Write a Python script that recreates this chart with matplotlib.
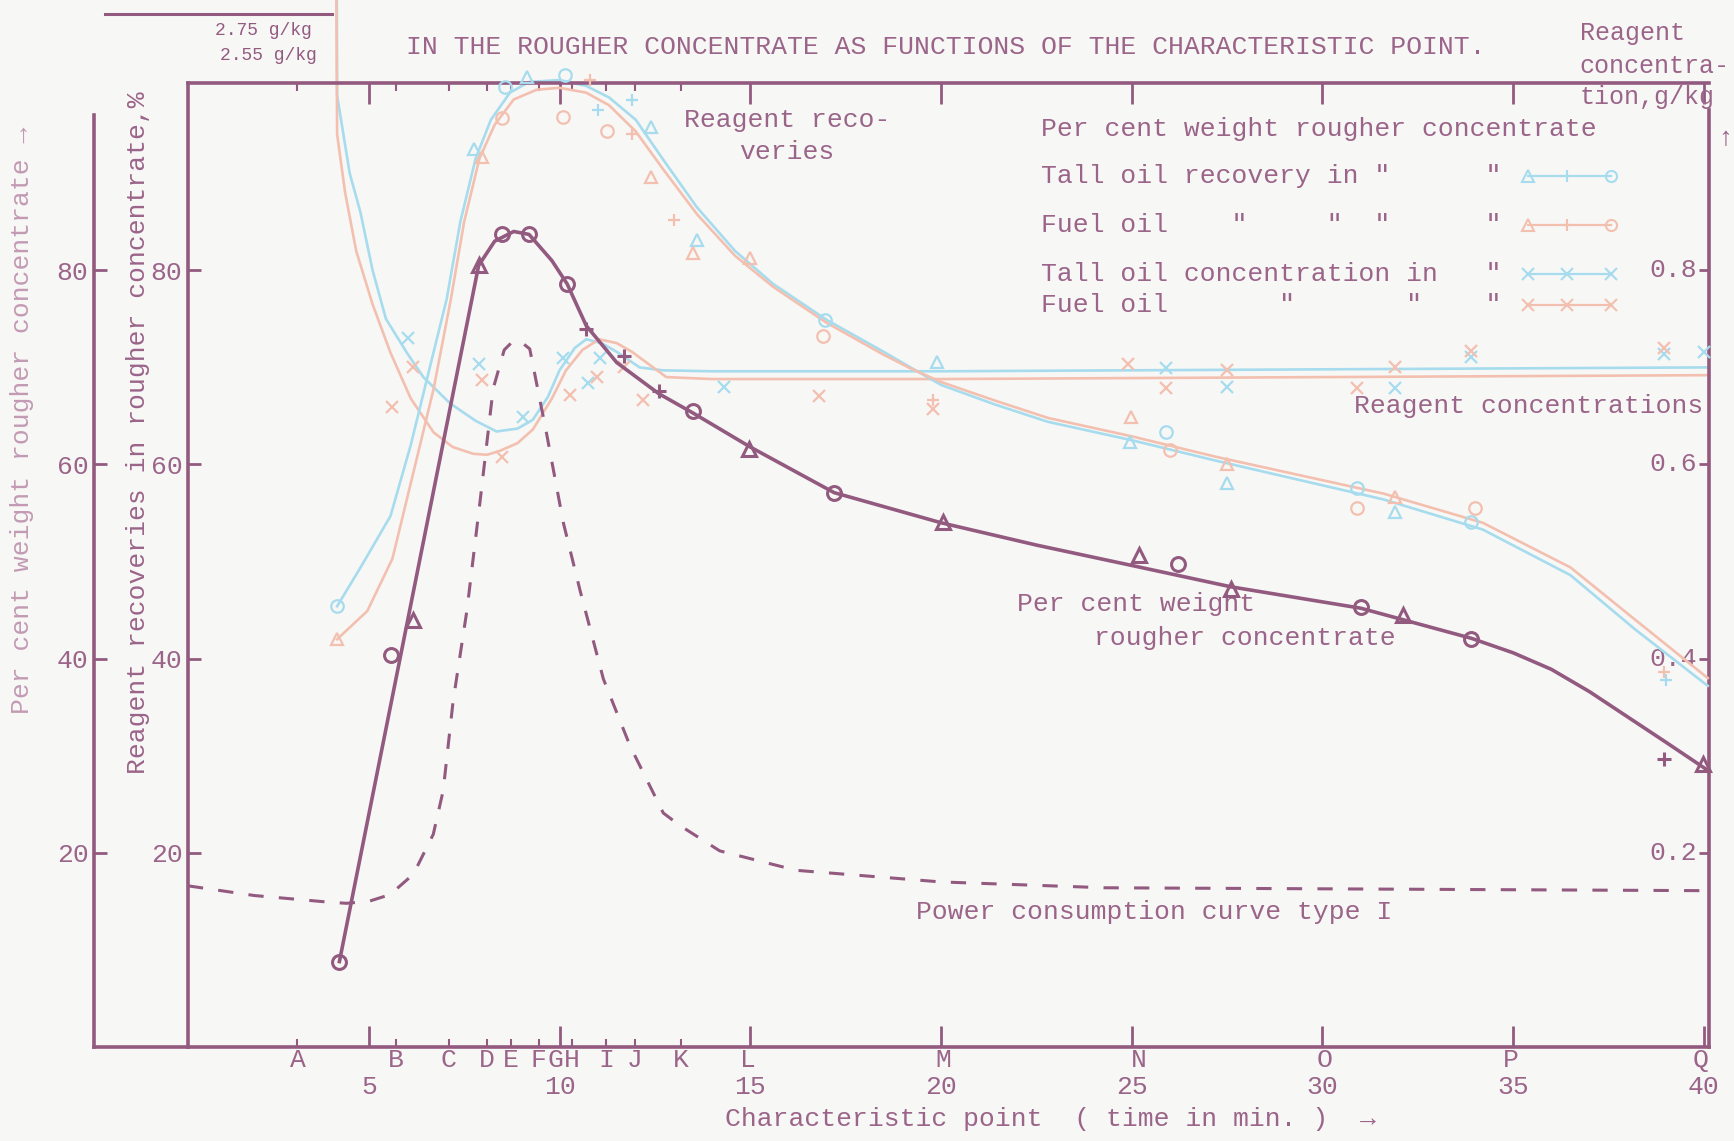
import matplotlib
matplotlib.use("Agg")
import matplotlib.pyplot as plt
from matplotlib.lines import Line2D

plt.rcParams['font.family'] = ['Liberation Mono', 'DejaVu Sans Mono']

PURPLE = "#935a80"
TEXT = "#9b6489"
LIGHT = "#c39ab4"
BLUE = "#a6dced"
PEACH = "#f3c0b0"
BG = "#f7f7f6"
FS = 19

# characteristic points along the time axis
point_names = list("ABCDEFGHIJKLMNOPQ")
point_times = [3.13, 5.71, 7.10, 8.09, 8.72, 9.45, 9.88, 10.32, 11.22, 11.97,
               13.19, 14.93, 20.06, 25.19, 30.06, 34.93, 39.91]
minutes = [5, 10, 15, 20, 25, 30, 35, 40]

# per cent weight rougher concentrate
wt_line_t = [4.23, 7.88, 8.3, 8.8, 9.2, 9.8, 10.2, 10.7, 11.5, 12.6, 13.5, 15.0,
             17.2, 20.0, 22.5, 25.0, 27.6, 31.0, 33.9, 35.0, 36.0, 37.0, 38.0, 39.0, 40.1]
wt_line_v = [8.8, 80.5, 83.0, 84.0, 83.7, 81.0, 78.6, 74.3, 70.5, 67.3, 65.3, 61.8,
             57.1, 54.0, 51.7, 49.6, 47.4, 45.2, 42.1, 40.6, 38.9, 36.6, 34.0, 31.4, 28.5]
wt_circ_t = [4.23, 5.57, 8.49, 9.19, 10.2, 13.5, 17.2, 26.2, 31.0, 33.9]
wt_circ_v = [8.8, 40.4, 83.7, 83.7, 78.6, 65.5, 57.1, 49.8, 45.3, 42.0]
wt_tri_t = [6.17, 7.88, 14.96, 20.06, 25.2, 27.6, 32.1, 39.97]
wt_tri_v = [44.0, 80.5, 61.6, 54.1, 50.7, 47.2, 44.5, 29.2]
wt_plus_t = [10.7, 11.7, 12.6, 38.96]
wt_plus_v = [74.0, 71.2, 67.6, 29.7]

# reagent recoveries, %
tall_rec_t = [4.17, 4.8, 5.57, 6.1, 6.6, 7.04, 7.4, 7.8, 8.2, 8.7, 9.2, 10.0, 10.7,
              11.3, 12.0, 12.7, 13.6, 14.6, 15.6, 17.0, 18.5, 19.2, 20.0, 21.4,
              22.8, 25.0, 27.2, 29.4, 31.6, 34.2, 36.5, 38.2, 40.1]
tall_rec_v = [45.4, 49.5, 54.7, 62.0, 70.0, 77.0, 85.0, 91.5, 95.5, 98.3, 99.4, 99.6,
              99.0, 97.8, 95.5, 91.5, 86.5, 82.0, 78.6, 74.9, 71.6, 70.0, 68.2, 66.2,
              64.4, 62.5, 60.4, 58.4, 56.4, 53.3, 48.6, 43.0, 37.2]
fuel_rec_t = [4.17, 4.96, 5.62, 6.14, 6.7, 7.15, 7.5, 7.9, 8.3, 8.8, 9.4, 10.0, 10.7,
              11.3, 12.0, 12.7, 13.6, 14.6, 15.6, 17.0, 18.5, 19.2, 20.0, 21.4,
              22.8, 25.0, 27.2, 29.4, 31.6, 34.2, 36.5, 38.2, 40.1]
fuel_rec_v = [42.0, 44.9, 50.3, 58.7, 67.8, 77.0, 85.0, 91.5, 95.0, 97.6, 98.6, 98.8,
              98.3, 97.0, 94.3, 90.5, 85.8, 81.5, 78.3, 74.6, 71.3, 69.9, 68.5, 66.6,
              64.8, 62.9, 60.8, 58.9, 57.0, 54.0, 49.4, 44.0, 38.0]

tall_rec_circ_t = [4.17, 8.57, 10.14, 16.96, 25.9, 30.9, 33.9]
tall_rec_circ_v = [45.4, 98.9, 100.1, 74.9, 63.3, 57.6, 54.1]
tall_rec_tri_t = [7.75, 9.14, 12.4, 13.6, 19.9, 24.96, 27.5, 31.9]
tall_rec_tri_v = [92.5, 99.9, 94.8, 83.1, 70.6, 62.3, 58.1, 55.1]
tall_rec_plus_t = [11.0, 11.9, 39.0]
tall_rec_plus_v = [96.5, 97.5, 37.8]

fuel_rec_circ_t = [8.5, 10.1, 11.25, 16.9, 26.0, 30.9, 34.0]
fuel_rec_circ_v = [95.7, 95.8, 94.3, 73.2, 61.5, 55.5, 55.5]
fuel_rec_tri_t = [4.17, 7.97, 12.4, 13.5, 15.0, 24.99, 27.5, 31.9]
fuel_rec_tri_v = [42.0, 91.7, 89.6, 81.8, 81.3, 64.9, 60.1, 56.6]
fuel_rec_plus_t = [10.8, 11.9, 13.0, 19.8, 38.96]
fuel_rec_plus_v = [99.6, 94.0, 85.2, 66.6, 38.6]

# reagent concentrations, g/kg (first values are off scale)
tall_conc_t = [4.03, 4.17, 4.5, 4.78, 5.1, 5.45, 6.0, 6.43, 7.13, 7.8, 8.35, 8.9, 9.3,
               9.7, 10.0, 10.4, 10.7, 11.1, 11.5, 12.1, 12.7, 14.0, 20.0, 30.0, 40.1]
tall_conc_v = [2.75, 0.98, 0.90, 0.86, 0.80, 0.75, 0.715, 0.69, 0.663, 0.645, 0.634,
               0.637, 0.646, 0.67, 0.697, 0.72, 0.729, 0.725, 0.716, 0.70, 0.697,
               0.696, 0.696, 0.698, 0.70]
fuel_conc_t = [3.95, 4.17, 4.38, 4.67, 5.1, 5.57, 6.1, 6.7, 7.2, 7.74, 8.1, 8.43, 8.9,
               9.3, 9.8, 10.17, 10.6, 11.04, 11.5, 11.9, 12.8, 14.0, 20.0, 30.0, 40.1]
fuel_conc_v = [2.55, 0.94, 0.88, 0.82, 0.765, 0.715, 0.668, 0.633, 0.618, 0.611, 0.610,
               0.614, 0.622, 0.636, 0.668, 0.697, 0.718, 0.729, 0.725, 0.716, 0.69,
               0.688, 0.688, 0.69, 0.692]
tall_conc_x_t = [6.03, 7.9, 9.05, 10.1, 10.75, 11.07, 14.3, 25.9, 27.5, 31.9, 33.9, 38.96, 40.0]
tall_conc_x_v = [0.730, 0.703, 0.649, 0.71, 0.684, 0.71, 0.68, 0.699, 0.68, 0.679, 0.711, 0.714, 0.716]
fuel_conc_x_t = [5.62, 6.17, 7.97, 8.5, 10.27, 10.98, 11.7, 12.2, 16.8, 19.8, 24.9, 25.9,
                 27.5, 30.9, 31.9, 33.9, 38.96]
fuel_conc_x_v = [0.659, 0.700, 0.687, 0.608, 0.672, 0.69, 0.70, 0.666, 0.671, 0.657, 0.704,
                 0.679, 0.697, 0.679, 0.70, 0.717, 0.72]

# power consumption curve type I (plotted on the % scale)
power_t = [0.26, 2.0, 4.0, 4.42, 5.0, 5.56, 6.17, 6.69, 6.95, 7.21, 7.57, 7.92, 8.26,
           8.55, 8.78, 9.0, 9.22, 9.66, 10.1, 10.54, 11.15, 11.85, 12.72, 13.16, 14.2,
           16.2, 20.0, 24.3, 40.1]
power_v = [16.6, 15.6, 14.9, 14.8, 15.0, 15.7, 17.8, 21.9, 26.4, 35.6, 44.9, 56.3, 67.8,
           71.8, 72.7, 72.6, 71.9, 63.2, 54.0, 47.0, 37.9, 31.0, 24.1, 22.8, 20.2,
           18.2, 17.0, 16.4, 16.1]

fig = plt.figure(figsize=(17.34, 11.41), dpi=100, facecolor=BG)

ax_out = fig.add_axes([0.0542, 0.0824, 0.0542, 0.8449])
ax = fig.add_axes([0.1084, 0.0824, 0.8769, 0.8449])
ax_out.patch.set_alpha(0)
ax2 = ax.twinx()

ax.set_xlim(0.26, 40.12)
ax.set_ylim(0, 99.3)
ax2.set_ylim(0, 0.993)
ax_out.set_ylim(0, 99.3)

for a in (ax, ax2, ax_out):
    for s in a.spines.values():
        s.set_color(PURPLE)
        s.set_linewidth(2.6)

ax.spines['right'].set_visible(False)
ax2.spines['left'].set_visible(False)
ax2.spines['top'].set_visible(False)
ax2.spines['bottom'].set_visible(False)
ax2.spines['right'].set_bounds(0, 0.965)
ax_out.spines['top'].set_visible(False)
ax_out.spines['right'].set_visible(False)
ax_out.spines['left'].set_bounds(0, 96.0)
ax_out.set_xticks([])

# left scales
for a in (ax, ax_out):
    a.set_yticks([20, 40, 60, 80])
    a.set_yticklabels(["20", "40", "60", "80"])
    a.tick_params(axis='y', direction='in', length=9, width=2, color=PURPLE,
                  labelsize=FS, labelcolor=TEXT, pad=4)

# right scale, labels inside the frame
ax2.set_yticks([0.2, 0.4, 0.6, 0.8])
ax2.set_yticklabels([])
ax2.tick_params(axis='y', direction='in', length=7, width=2, color=PURPLE)
for v in [0.2, 0.4, 0.6, 0.8]:
    ax2.annotate(f"{v:.1f}", xy=(1, v), xycoords=('axes fraction', 'data'),
                 xytext=(-8, 0), textcoords='offset points', ha='right', va='center',
                 fontsize=FS, color=TEXT)

# time axis
ax.set_xticks(minutes)
ax.set_xticklabels([str(m) for m in minutes])
ax.set_xticks([t for t in point_times if abs(t - round(t)) > 0.3 or round(t) not in minutes],
              minor=True)
ax.tick_params(axis='x', which='major', direction='in', length=15, width=2, color=PURPLE,
               labelsize=FS, labelcolor=TEXT, pad=20, top=True)
ax.tick_params(axis='x', which='minor', direction='in', length=6, width=1.5, color=PURPLE,
               top=True)
for name, t in zip(point_names, point_times):
    ax.annotate(name, xy=(t, 0), xycoords=('data', 'axes fraction'), xytext=(0, -1),
                textcoords='offset points', ha='center', va='top', fontsize=FS,
                color=TEXT, annotation_clip=False)

# recoveries
ax.plot(tall_rec_t, tall_rec_v, color=BLUE, lw=1.9, clip_on=False, zorder=2)
ax.plot(fuel_rec_t, fuel_rec_v, color=PEACH, lw=1.9, clip_on=False, zorder=2)
mk = dict(ls='none', mfc='none', mew=1.6, ms=9, clip_on=False, zorder=3)
ax.plot(tall_rec_circ_t, tall_rec_circ_v, marker='o', color=BLUE, **mk)
ax.plot(tall_rec_tri_t, tall_rec_tri_v, marker='^', color=BLUE, **mk)
ax.plot(tall_rec_plus_t, tall_rec_plus_v, marker='+', color=BLUE, **mk)
ax.plot(fuel_rec_circ_t, fuel_rec_circ_v, marker='o', color=PEACH, **mk)
ax.plot(fuel_rec_tri_t, fuel_rec_tri_v, marker='^', color=PEACH, **mk)
ax.plot(fuel_rec_plus_t, fuel_rec_plus_v, marker='+', color=PEACH, **mk)

# concentrations
ax2.plot(tall_conc_t, tall_conc_v, color=BLUE, lw=1.9, clip_on=False, zorder=2)
ax2.plot(fuel_conc_t, fuel_conc_v, color=PEACH, lw=1.9, clip_on=False, zorder=2)
ax2.plot(tall_conc_x_t, tall_conc_x_v, marker='x', color=BLUE, **mk)
ax2.plot(fuel_conc_x_t, fuel_conc_x_v, marker='x', color=PEACH, **mk)

# power consumption and per cent weight
ax.plot(power_t, power_v, color=PURPLE, lw=2.2, ls=(0, (5, 5)), zorder=4)
ax.plot(wt_line_t, wt_line_v, color=PURPLE, lw=2.6, zorder=5, clip_on=False)
mkp = dict(ls='none', mfc='none', mew=2.2, ms=10, color=PURPLE, zorder=6, clip_on=False)
ax.plot(wt_circ_t, wt_circ_v, marker='o', **mkp)
ax.plot(wt_tri_t, wt_tri_v, marker='^', **mkp)
ax.plot(wt_plus_t, wt_plus_v, marker='+', **mkp)
ax2.set_zorder(ax.get_zorder() - 1)
ax.set_zorder(ax2.get_zorder() + 1)
ax.patch.set_visible(False)

# key
key_rows = [
    (0.952, 'Per cent weight rougher concentrate', None, None),
    (0.903, 'Tall oil recovery in "      "', BLUE, ['^', '+', 'o']),
    (0.853, 'Fuel oil    "     "  "      "', PEACH, ['^', '+', 'o']),
    (0.802, 'Tall oil concentration in   "', BLUE, ['x', 'x', 'x']),
    (0.770, 'Fuel oil       "       "    "', PEACH, ['x', 'x', 'x']),
]
for y, label, col, marks in key_rows:
    ax.text(0.561, y, label, transform=ax.transAxes, fontsize=FS, color=TEXT,
            ha='left', va='center')
    if col is not None:
        ax.plot([0.881, 0.936], [y, y], color=col, lw=1.6, transform=ax.transAxes)
        for xm, m in zip([0.881, 0.907, 0.936], marks):
            ax.plot([xm], [y], marker=m, color=col, mfc='none', mew=1.5, ms=8,
                    transform=ax.transAxes)

ax.text(0.394, 0.962, 'Reagent reco-', transform=ax.transAxes, fontsize=FS,
        color=TEXT, ha='center', va='center')
ax.text(0.394, 0.928, 'veries', transform=ax.transAxes, fontsize=FS,
        color=TEXT, ha='center', va='center')
ax.text(0.767, 0.665, 'Reagent concentrations', transform=ax.transAxes, fontsize=FS,
        color=TEXT, ha='left', va='center', clip_on=True)
ax.text(0.545, 0.460, 'Per cent weight', transform=ax.transAxes, fontsize=FS,
        color=TEXT, ha='left', va='center')
ax.text(0.596, 0.424, 'rougher concentrate', transform=ax.transAxes, fontsize=FS,
        color=TEXT, ha='left', va='center')
ax.text(0.479, 0.140, 'Power consumption curve type I', transform=ax.transAxes,
        fontsize=FS, color=TEXT, ha='left', va='center')

# titles and axis captions
fig.text(0.234, 0.959, 'IN THE ROUGHER CONCENTRATE AS FUNCTIONS OF THE CHARACTERISTIC POINT.',
         fontsize=FS, color=TEXT, ha='left', va='center')
fig.text(0.0128, 0.632, 'Per cent weight rougher concentrate \u2192', rotation=90,
         fontsize=FS, color=LIGHT, ha='center', va='center')
fig.text(0.0797, 0.621, 'Reagent recoveries in rougher concentrate,%', rotation=90,
         fontsize=FS, color=TEXT, ha='center', va='center')
fig.text(0.606, 0.019, 'Characteristic point  ( time in min. )  \u2192', fontsize=FS,
         color=TEXT, ha='center', va='center')
for y, s in [(0.971, 'Reagent'), (0.942, 'concentra-'), (0.915, 'tion,g/kg')]:
    fig.text(0.911, y, s, fontsize=18, color=TEXT, ha='left', va='center')
fig.text(0.995, 0.879, '\u2191', fontsize=FS, color=TEXT, ha='center', va='center')

# off-scale marker for the first concentrations
fig.add_artist(Line2D([0.0606, 0.1913], [0.988, 0.988], color=PURPLE, lw=2.2))
fig.text(0.152, 0.973, '2.75 g/kg', fontsize=13, color=PURPLE, ha='center', va='center')
fig.text(0.155, 0.951, '2.55 g/kg', fontsize=13, color=PURPLE, ha='center', va='center')

fig.savefig("out.png", dpi=100, facecolor=BG)
